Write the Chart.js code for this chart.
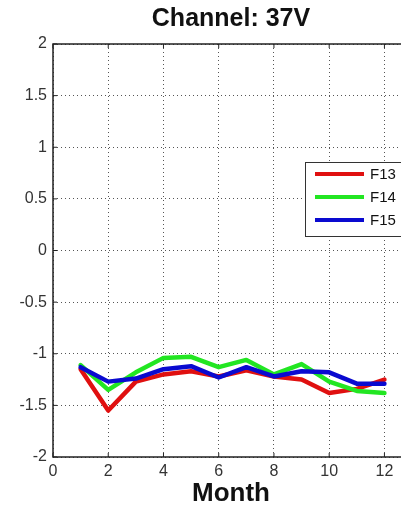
<!DOCTYPE html>
<html>
<head>
<meta charset="utf-8">
<script src="https://cdn.jsdelivr.net/npm/chart.js@4/dist/chart.umd.min.js"></script>
<style>
  html, body { margin: 0; padding: 0; background: #fff; overflow: hidden; }
  #wrap { width: 401px; height: 512px; }
</style>
</head>
<body>
<div id="wrap"><canvas id="chart" width="401" height="512"></canvas></div>
<script>
// ---- data ----
const months = [1, 2, 3, 4, 5, 6, 7, 8, 9, 10, 11, 12];
const f13 = [-1.15, -1.55, -1.27, -1.20, -1.17, -1.22, -1.16, -1.22, -1.25, -1.38, -1.34, -1.25];
const f14 = [-1.11, -1.35, -1.18, -1.04, -1.03, -1.13, -1.06, -1.20, -1.10, -1.27, -1.36, -1.38];
const f15 = [-1.13, -1.27, -1.24, -1.15, -1.12, -1.23, -1.13, -1.22, -1.17, -1.18, -1.29, -1.29];
const seriesNames = ["F13", "F14", "F15"];
const yTicks = [-2, -1.5, -1, -0.5, 0, 0.5, 1, 1.5, 2];
const xTicks = [0, 2, 4, 6, 8, 10, 12];
const titleText = "Channel: 37V";
const xTitle = "Month";

const FONT = "'Liberation Sans', Arial, Helvetica, sans-serif";

function pts(vals) {
    return months.map((m, i) => ({ x: m, y: vals[i] }));
}

// axes box, inward ticks, titles and the legend (matlab look)
const matlabFrame = {
    id: "matlabFrame",
    afterDatasetsDraw(chart) {
        const ctx = chart.ctx;
        const a = chart.chartArea;
        const xs = chart.scales.x, ys = chart.scales.y;
        // the figure was cropped on the right, so titles centre on the full axes box
        const midX = a.left + 178;
        ctx.save();
        ctx.strokeStyle = "#222";
        ctx.lineWidth = 1.5;
        ctx.setLineDash([]);
        ctx.beginPath();
        ctx.moveTo(a.right + 5, a.top);
        ctx.lineTo(a.left, a.top);
        ctx.lineTo(a.left, a.bottom);
        ctx.lineTo(a.right + 5, a.bottom);
        ctx.stroke();

        ctx.lineWidth = 1;
        ctx.beginPath();
        xTicks.forEach(v => {
            const px = xs.getPixelForValue(v);
            ctx.moveTo(px, a.bottom); ctx.lineTo(px, a.bottom - 4);
            ctx.moveTo(px, a.top); ctx.lineTo(px, a.top + 4);
        });
        yTicks.forEach(v => {
            const py = ys.getPixelForValue(v);
            ctx.moveTo(a.left, py); ctx.lineTo(a.left + 4, py);
        });
        ctx.stroke();

        // titles
        ctx.fillStyle = "#111";
        ctx.textAlign = "center";
        ctx.textBaseline = "middle";
        ctx.font = "bold 25px " + FONT;
        ctx.fillText(titleText, midX, 19);
        ctx.font = "bold 26px " + FONT;
        ctx.fillText(xTitle, midX, 494);

        // legend
        const lx = a.left + 252, ly = a.top + 118;
        ctx.fillStyle = "#fff";
        ctx.fillRect(lx, ly, 120, 74);
        ctx.strokeStyle = "#333";
        ctx.lineWidth = 1;
        ctx.strokeRect(lx + 0.5, ly + 0.5, 120, 74);
        ctx.font = "15px " + FONT;
        ctx.textBaseline = "middle";
        ctx.textAlign = "left";
        chart.data.datasets.forEach((ds, i) => {
            const y = ly + 12 + i * 23;
            ctx.strokeStyle = ds.borderColor;
            ctx.lineWidth = 4;
            ctx.beginPath();
            ctx.moveTo(lx + 10, y);
            ctx.lineTo(lx + 59, y);
            ctx.stroke();
            ctx.fillStyle = "#111";
            ctx.fillText(ds.label, lx + 65, y + 1);
        });
        ctx.restore();
    }
};

const ctx = document.getElementById("chart").getContext("2d");

const chart = new Chart(ctx, {
    type: "line",
    data: {
        datasets: [
            { label: seriesNames[0], data: pts(f13), borderColor: "#e01010", order: 3 },
            { label: seriesNames[1], data: pts(f14), borderColor: "#22e622", order: 2 },
            { label: seriesNames[2], data: pts(f15), borderColor: "#0a0ad0", order: 1 }
        ]
    },
    options: {
        responsive: false,
        animation: false,
        events: [],
        layout: { padding: { top: 44, right: 0, bottom: 0, left: 0 } },
        elements: {
            line: { borderWidth: 4.5, tension: 0, borderJoinStyle: "round", borderCapStyle: "round" },
            point: { radius: 0 }
        },
        plugins: {
            legend: { display: false },
            tooltip: { enabled: false },
            title: { display: false }
        },
        scales: {
            x: {
                type: "linear",
                min: 0,
                max: 12.6,
                afterBuildTicks(scale) {
                    scale.ticks = xTicks.map(v => ({ value: v }));
                },
                afterFit(scale) { scale.height = 55; },
                grid: { color: "#555", lineWidth: 1, drawTicks: false },
                border: { display: false, dash: [1, 3] },
                ticks: {
                    color: "#333",
                    font: { family: FONT, size: 16 },
                    padding: 5,
                    maxRotation: 0,
                    callback: v => String(v)
                }
            },
            y: {
                min: -2,
                max: 2,
                afterBuildTicks(scale) {
                    scale.ticks = yTicks.map(v => ({ value: v }));
                },
                afterFit(scale) { scale.width = 53; },
                grid: { color: "#555", lineWidth: 1, drawTicks: false },
                border: { display: false, dash: [1, 3] },
                ticks: {
                    color: "#333",
                    font: { family: FONT, size: 16 },
                    padding: 6,
                    callback: v => String(v)
                }
            }
        }
    },
    plugins: [matlabFrame]
});
</script>
</body>
</html>
